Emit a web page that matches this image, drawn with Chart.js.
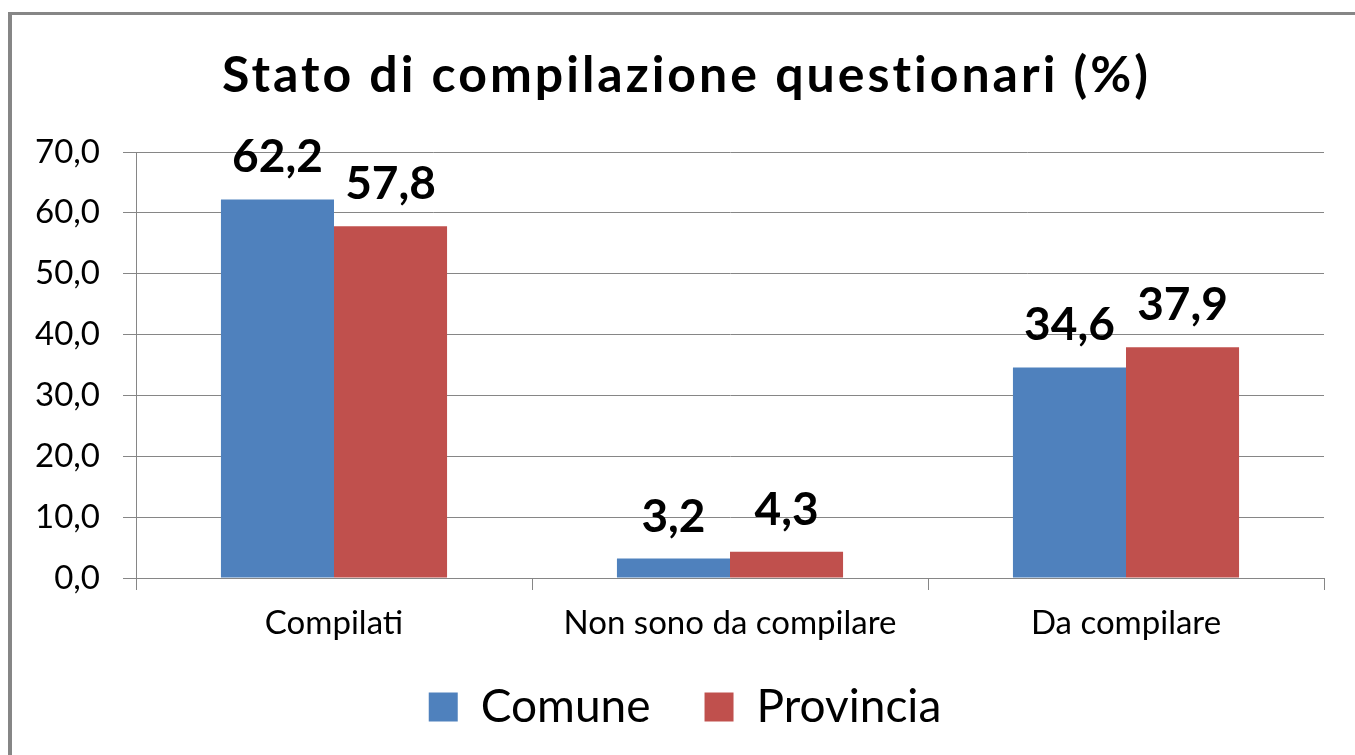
<!DOCTYPE html>
<html>
<head>
<meta charset="utf-8">
<script src="https://cdn.jsdelivr.net/npm/chart.js@4.4.1/dist/chart.umd.min.js"></script>
<style>
  html, body { margin: 0; padding: 0; background: #fff; overflow: hidden; }
  #frame { position: absolute; left: 8px; top: 12px; width: 1400px; height: 800px;
           border-left: 4px solid #868686; border-top: 3px solid #868686; }
  #wrap { position: absolute; left: 0; top: 0; width: 1355px; height: 755px; }
</style>
</head>
<body>
<div id="frame"></div>
<div id="wrap"><canvas id="chart"></canvas></div>
<script>
// data
const categories = ['Compilati', 'Non sono da compilare', 'Da compilare'];
const comune = [62.2, 3.2, 34.6];
const provincia = [57.8, 4.3, 37.9];
const seriesNames = ['Comune', 'Provincia'];
const titleText = 'Stato di compilazione questionari (%)';
const yMin = 0, yMax = 70, yStep = 10;

const fmt = v => v.toFixed(1).replace('.', ',');
const FONT = 'Lato';
const GRAY = '#868686';
const TITLE_SIZE = 50;

// value labels above each bar
const valueLabels = {
  id: 'valueLabels',
  afterDatasetsDraw(chart) {
    const ctx = chart.ctx;
    ctx.save();
    ctx.font = 'bold 46px ' + FONT;
    ctx.fillStyle = '#000';
    ctx.textAlign = 'center';
    ctx.textBaseline = 'alphabetic';
    chart.data.datasets.forEach((ds, i) => {
      chart.getDatasetMeta(i).data.forEach((bar, j) => {
        ctx.fillText(fmt(ds.data[j]), bar.x, bar.y - 27);
      });
    });
    ctx.restore();
  }
};

// the title block keeps its space, the text is drawn here with wider spacing
const wideTitle = {
  id: 'wideTitle',
  afterDraw(chart) {
    const tb = chart.titleBlock;
    const ctx = chart.ctx;
    ctx.save();
    ctx.font = 'bold ' + TITLE_SIZE + 'px ' + FONT;
    ctx.letterSpacing = '3px';
    ctx.fillStyle = '#000';
    ctx.textAlign = 'center';
    ctx.textBaseline = 'middle';
    ctx.fillText(titleText, (tb.left + tb.right) / 2 + 1.5, tb.top + 46 + TITLE_SIZE * 0.6);
    ctx.restore();
  }
};

// labels may reach outside their axis box
const noLabelClip = s => { s._computeLabelArea = () => null; };

new Chart(document.getElementById('chart'), {
  type: 'bar',
  data: {
    labels: categories,
    datasets: [
      { label: seriesNames[0], data: comune, backgroundColor: '#4F81BD' },
      { label: seriesNames[1], data: provincia, backgroundColor: '#C0504D' }
    ]
  },
  options: {
    responsive: true,
    maintainAspectRatio: false,
    animation: false,
    events: [],
    datasets: { bar: { categoryPercentage: 0.571, barPercentage: 1 } },
    layout: { padding: { left: 46, right: 31, top: 0, bottom: 15 } },
    plugins: {
      title: {
        display: true,
        text: titleText,
        color: 'rgba(0,0,0,0)',
        font: { family: FONT, size: TITLE_SIZE, weight: 'bold', lineHeight: 1.2 },
        padding: { top: 46, bottom: 46 }
      },
      legend: {
        position: 'bottom',
        labels: {
          color: '#000',
          font: { family: FONT, size: 46 },
          boxWidth: 29,
          boxHeight: 29,
          padding: 54
        }
      },
      tooltip: { enabled: false }
    },
    scales: {
      x: {
        afterFit: s => { s.height = 52; noLabelClip(s); },
        border: { color: GRAY, width: 1 },
        grid: { drawOnChartArea: false, drawTicks: true, tickLength: 12, color: GRAY, offset: true },
        ticks: { color: '#000', font: { family: FONT, size: 33 }, padding: 14, maxRotation: 0 }
      },
      y: {
        min: yMin,
        max: yMax,
        afterFit: s => { s.width = 90; noLabelClip(s); },
        border: { color: GRAY, width: 1 },
        grid: { color: GRAY, tickLength: 13 },
        ticks: {
          stepSize: yStep,
          color: '#000',
          font: { family: FONT, size: 33 },
          padding: 23,
          callback: v => fmt(v)
        }
      }
    }
  },
  plugins: [valueLabels, wideTitle]
});
</script>
</body>
</html>
